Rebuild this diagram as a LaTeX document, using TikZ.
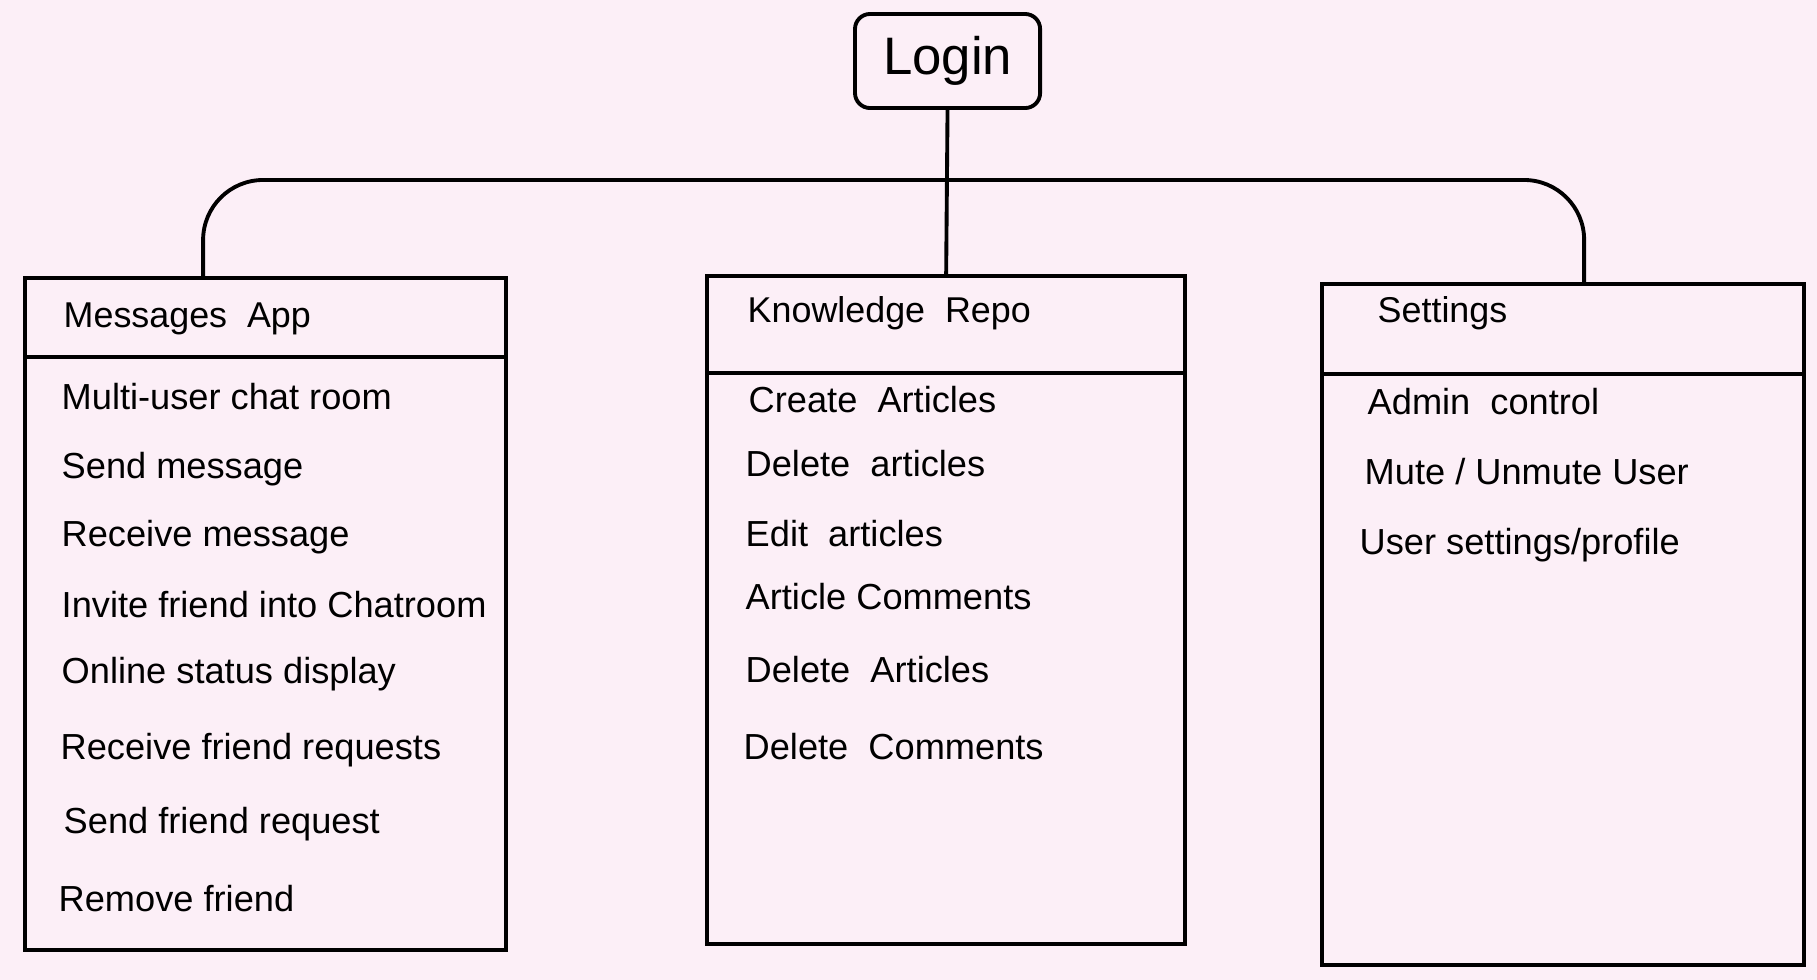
\documentclass[tikz,border=0pt]{standalone}
\usepackage{fontspec}
\setmainfont{Liberation Sans}
\usepackage{tikz}

\definecolor{bgpink}{RGB}{252,239,247}

\tikzset{
  panel/.style={draw, line width=1.1pt, inner sep=0pt, outer sep=0pt, anchor=north west},
  link/.style={line width=1.1pt},
  item/.style={anchor=west, inner sep=0pt, font=\fontsize{10.3}{12}\selectfont},
  title/.style={anchor=west, inner sep=0pt, font=\fontsize{10.2}{12}\selectfont}
}

\begin{document}
\begin{tikzpicture}[x=0.01cm, y=-0.01cm]
            \fill[bgpink] (0,0) rectangle (1817,980);
            \useasboundingbox (0,0) rectangle (1817,980);

            % login
            \node[panel, rounded corners=0.15cm, minimum width=1.85cm, minimum height=0.94cm] (login) at (855,14) {};
            \node (logintext) at (login.center) {\fontsize{15}{17}\selectfont Login};

            % the three boxes
            \node[panel, minimum width=4.81cm, minimum height=6.72cm] (msg) at (25,278) {};
            \node[panel, minimum width=4.78cm, minimum height=6.68cm] (kr) at (707,276) {};
            \node[panel, minimum width=4.82cm, minimum height=6.81cm] (set) at (1322,284) {};

            \draw[link] ([yshift=-0.79cm]msg.north west) -- ([yshift=-0.79cm]msg.north east);
            \draw[link] ([yshift=-0.97cm]kr.north west) -- ([yshift=-0.97cm]kr.north east);
            \draw[link] ([yshift=-0.90cm]set.north west) -- ([yshift=-0.90cm]set.north east);

            % connectors
            \coordinate (bar) at (948,180);
            \draw[link] (login.south) -- (kr.north);
            \draw[link, rounded corners=0.6cm] ([xshift=1.78cm]msg.north west) |- (bar)
                  -| ([xshift=2.62cm]set.north west);

            % Messages App
            \node[title] (msgtitle) at (63,319) {Messages\ \ App};
            \node[item] (m1) at (61,397) {Multi-user chat room};
            \node[item] (m2) at (61,469) {Send message};
            \node[item] (m3) at (61,537) {Receive message};
            \node[item] (m4) at (61,605) {Invite friend into Chatroom};
            \node[item] (m5) at (61,674) {Online status display};
            \node[item] (m6) at (60,750) {Receive friend requests};
            \node[item] (m7) at (63,824) {Send friend request};
            \node[item] (m8) at (58,899) {Remove friend};

            % Knowledge Repo
            \node[title] (krtitle) at (747,313) {Knowledge\ \ Repo};
            \node[item] (k1) at (748,400) {Create\ \ Articles};
            \node[item] (k2) at (745,464) {Delete\ \ articles};
            \node[item] (k3) at (745,534) {Edit\ \ articles};
            \node[item] (k4) at (745,597) {Article Comments};
            \node[item] (k5) at (745,670) {Delete\ \ Articles};
            \node[item] (k6) at (743,747) {Delete\ \ Comments};

            % Settings
            \node[title] (settitle) at (1377,313) {Settings};
            \node[item] (s1) at (1367,402) {Admin\ \ control};
            \node[item] (s2) at (1364,472) {Mute / Unmute User};
            \node[item] (s3) at (1359,545) {User settings/profile};
        \end{tikzpicture}
\end{document}
